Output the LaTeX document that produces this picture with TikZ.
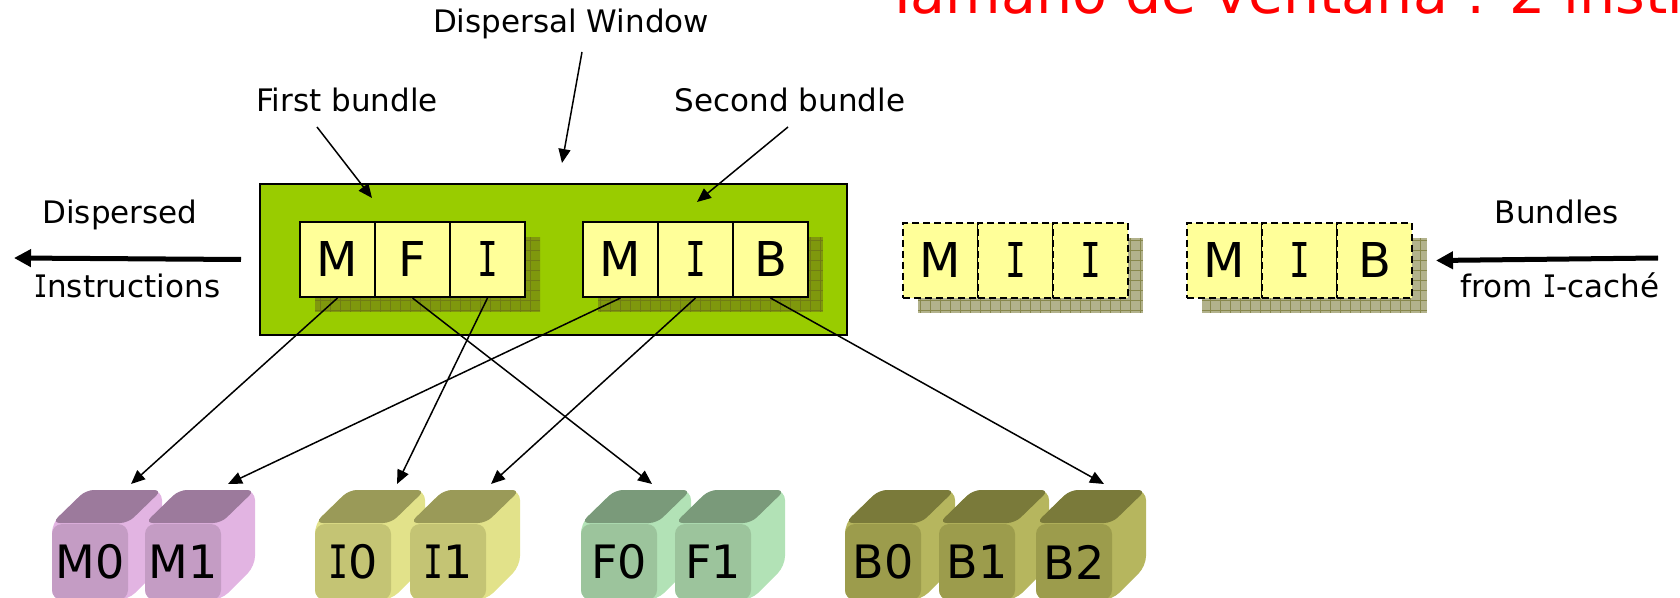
\documentclass[tikz,border=0pt]{standalone}
\usepackage{graphicx}
\usepackage{fontspec}
\setmainfont{DejaVu Sans}
\newfontfamily\monoface{DejaVu Sans Mono}
\usetikzlibrary{arrows.meta}

\definecolor{winGreen}{HTML}{99CC00}
\definecolor{slotYellow}{HTML}{FFFF99}
\definecolor{shadeOlive}{HTML}{66661A}
\definecolor{mFront}{HTML}{C49CC4}
\definecolor{mTop}{HTML}{9C7A9C}
\definecolor{mSide}{HTML}{E2B4E2}
\definecolor{iFront}{HTML}{C4C474}
\definecolor{iTop}{HTML}{9A9A58}
\definecolor{iSide}{HTML}{E2E28A}
\definecolor{fFront}{HTML}{9CC49C}
\definecolor{fTop}{HTML}{7A9A7A}
\definecolor{fSide}{HTML}{B2E2B6}
\definecolor{bFront}{HTML}{9C9C4C}
\definecolor{bTop}{HTML}{7A7A3A}
\definecolor{bSide}{HTML}{B6B65E}

% capital I with serifs
\newcommand\serI{\scalebox{0.72}[1]{\monoface I}}

% hatched drop shadow behind a bundle: x0 y0 x1 y1
\newcommand\slotshade[4]{%
  \begin{scope}
    \clip (#1,#2) rectangle (#3,#4);
    \fill[shadeOlive, opacity=0.5] (#1,#2) rectangle (#3,#4);
    \draw[shadeOlive, opacity=0.55, line width=0.35pt, step=5pt] (#1,#2) grid (#3,#4);
  \end{scope}}

% execution unit drawn as a rounded block: name, left x, label, front, top, side colours
\newcommand\unitblock[6]{%
  \fill[#6, rounded corners=5pt] (#2,523) -- (#2+34,490) -- (#2+110,490) -- (#2+110,566) -- (#2+76,600) -- (#2,600) -- cycle;
  \fill[#5, rounded corners=4pt] (#2,523) -- (#2+34,490) -- (#2+110,490) -- (#2+76,523) -- cycle;
  \node[blockface, fill=#4] (#1) at (#2+38,562) {#3};}

\begin{document}
\begin{tikzpicture}[x=0.5pt, y=-0.5pt,
  slot/.style={draw=black, line width=1pt, fill=slotYellow, minimum width=37.5pt,
    minimum height=37.5pt, inner sep=0pt, anchor=north west, font=\fontsize{24}{24}\selectfont},
  pending/.style={slot, dash pattern=on 3.5pt off 2pt},
  caption/.style={font=\fontsize{15.5}{18}\selectfont, anchor=base, inner sep=0pt},
  blockface/.style={minimum width=38pt, minimum height=38pt, rounded corners=5pt,
    inner sep=0pt, font=\fontsize{23}{23}\selectfont},
  ptr/.style={-{Triangle[length=7pt,width=6pt]}, line width=0.75pt},
  bigptr/.style={-{Triangle[length=8.5pt,width=8.5pt]}, line width=2.5pt},
]
\clip (0,0) rectangle (1680,598);

% heading (runs past the right edge)
\node[anchor=base west, inner sep=0pt, text=red, font=\fontsize{28.5}{30}\selectfont]
  (head) at (885,14) {Tamaño de ventana : 2 instrucciones};

% dispersal window
\node[draw=black, line width=1pt, fill=winGreen, anchor=north west,
  minimum width=293.5pt, minimum height=75.5pt, inner sep=0pt] (win) at (259,183) {};

% shadows of the four bundles
\slotshade{315}{237}{540}{312}
\slotshade{598}{237}{823}{312}
\slotshade{918}{238}{1143}{313}
\slotshade{1202}{238}{1427}{313}

% bundles inside the window
\node[slot] (a1) at (299,221) {M};
\node[slot] (a2) at (374,221) {F};
\node[slot] (a3) at (449,221) {\serI};
\node[slot] (b1) at (582,221) {M};
\node[slot] (b2) at (657,221) {\serI};
\node[slot] (b3) at (732,221) {B};

% bundles waiting in the queue
\node[pending] (c1) at (902,222) {M};
\node[pending] (c2) at (977,222) {\serI};
\node[pending] (c3) at (1052,222) {\serI};
\node[pending] (d1) at (1186,222) {M};
\node[pending] (d2) at (1261,222) {\serI};
\node[pending] (d3) at (1336,222) {B};

% captions
\node[caption] (dw)  at (571,33)  {Dispersal Window};
\node[caption] (fb)  at (347,112) {First bundle};
\node[caption] (sb)  at (790,112) {Second bundle};
\node[caption] (dsp) at (120,224) {Dispersed};
\node[caption] (ins) at (127,298) {\serI nstructions};
\node[caption] (bdl) at (1557,224) {Bundles};
\node[caption] (fic) at (1560,298) {from \serI-caché};

% execution units
\unitblock{M0}{52}{M0}{mFront}{mTop}{mSide}
\unitblock{M1}{145}{M1}{mFront}{mTop}{mSide}
\unitblock{I0}{315}{\serI0}{iFront}{iTop}{iSide}
\unitblock{I1}{410}{\serI1}{iFront}{iTop}{iSide}
\unitblock{F0}{581}{F0}{fFront}{fTop}{fSide}
\unitblock{F1}{675}{F1}{fFront}{fTop}{fSide}
\unitblock{B0}{845}{B0}{bFront}{bTop}{bSide}
\unitblock{B1}{939}{B1}{bFront}{bTop}{bSide}
\unitblock{B2}{1036}{B2}{bFront}{bTop}{bSide}

% arrow ends
\coordinate (dwfoot) at (582,52);  \coordinate (dwtip) at (562,163);
\coordinate (fbfoot) at (317,127); \coordinate (fbtip) at (372,198);
\coordinate (sbfoot) at (788,127); \coordinate (sbtip) at (697,202);
\coordinate (outtip) at (14,258);  \coordinate (infoot) at (1658,258);
\coordinate (tM0) at (131,484); \coordinate (tM1) at (228,484);
\coordinate (tI0) at (397,484); \coordinate (tI1) at (491,484);
\coordinate (tF0) at (652,484); \coordinate (tB2) at (1104,484);

% callouts
\draw[ptr] (dwfoot) -- (dwtip);
\draw[ptr] (fbfoot) -- (fbtip);
\draw[ptr] (sbfoot) -- (sbtip);

% flow in and out
\draw[bigptr] (win.west) ++(-18,0) -- (outtip);
\draw[bigptr] (infoot) -- ([xshift=11.5pt]d3.east);

% dispersal to units
\draw[ptr] (a1.south) -- (tM0);
\draw[ptr] (a2.south) -- (tF0);
\draw[ptr] (a3.south) -- (tI0);
\draw[ptr] (b1.south) -- (tM1);
\draw[ptr] (b2.south) -- (tI1);
\draw[ptr] (b3.south) -- (tB2);
\end{tikzpicture}
\end{document}
